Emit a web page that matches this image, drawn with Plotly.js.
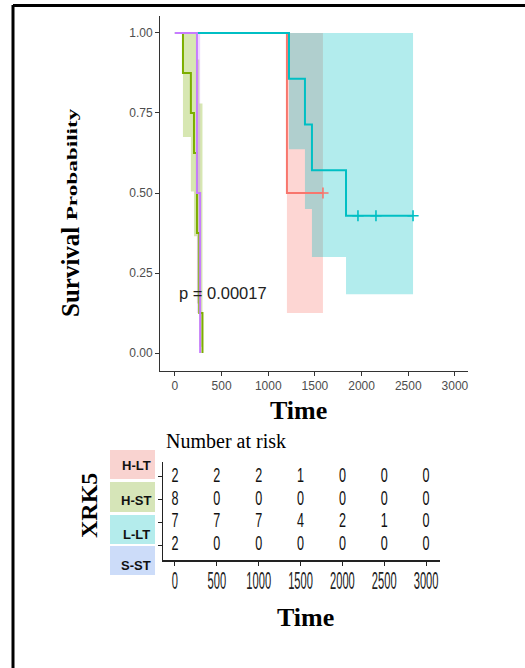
<!DOCTYPE html>
<html><head><meta charset="utf-8">
<script src="https://cdn.plot.ly/plotly-3.0.1.min.js"></script>
<style>html,body{margin:0;padding:0;background:#fff}#c{width:525px;height:668px}</style>
</head><body><div id="c"></div>
<script>
// ---- data ----
const groups = ["H-LT", "H-ST", "L-LT", "S-ST"];
const colors = ["#F8766D", "#7CAE00", "#00BFC4", "#C77CFF"];

const hltTime = [0, 1200, 1586];
const hltSurv = [1, 0.5, 0.5];
const hltLow  = [1, 0.125, 0.125];
const hltUp   = [1, 1, 1];
const hltCensor = [1586];

const hstTime = [0, 86, 171, 204, 236, 261, 295];
const hstSurv = [1, 0.875, 0.75, 0.625, 0.375, 0.125, 0];
const hstLow  = [1, 0.675, 0.505, 0.365, 0.155, 0.02, 0];
const hstUp   = [1, 1, 1, 1, 0.917, 0.78, 0];
const hstCensor = [];

const lltTime = [0, 1222, 1393, 1468, 1833, 2551];
const lltSurv = [1, 0.857, 0.714, 0.571, 0.429, 0.429];
const lltLow  = [1, 0.637, 0.45, 0.30, 0.184, 0.184];
const lltUp   = [1, 1, 1, 1, 1, 1];
const lltCensor = [1961, 2154, 2551];

const sstTime = [0, 236, 270];
const sstSurv = [1, 0.5, 0];
const sstLow  = [1, 0.125, 0];
const sstUp   = [1, 1, 0];
const sstCensor = [];

const pText = "p = 0.00017";

const riskTimes = [0, 500, 1000, 1500, 2000, 2500, 3000];
const riskHLT = [2, 2, 2, 1, 0, 0, 0];
const riskHST = [8, 0, 0, 0, 0, 0, 0];
const riskLLT = [7, 7, 7, 4, 2, 1, 0];
const riskSST = [2, 0, 0, 0, 0, 0, 0];

const yTicks = [0, 0.25, 0.5, 0.75, 1];
const xTicks = [0, 500, 1000, 1500, 2000, 2500, 3000];

// ---- build ----
const W = 525, H = 668;
const PX = x => x / W, PY = y => 1 - y / H;

function rgba(hex, a) {
  const r = parseInt(hex.slice(1,3),16), g = parseInt(hex.slice(3,5),16), b = parseInt(hex.slice(5,7),16);
  return `rgba(${r},${g},${b},${a})`;
}
function band(t, lo, hi) {
  const xs = [], ys = [], n = t.length;
  for (let i = 0; i < n; i++) { xs.push(t[i]); ys.push(hi[i]); if (i + 1 < n) { xs.push(t[i+1]); ys.push(hi[i]); } }
  for (let i = n - 1; i >= 0; i--) { if (i + 1 < n) { xs.push(t[i+1]); ys.push(lo[i]); } xs.push(t[i]); ys.push(lo[i]); }
  return {xs, ys};
}
function survAt(t, s, x) { let v = s[0]; for (let i = 0; i < t.length; i++) if (t[i] <= x) v = s[i]; return v; }

const series = [
  {t: hltTime, s: hltSurv, lo: hltLow, hi: hltUp, c: hltCensor},
  {t: hstTime, s: hstSurv, lo: hstLow, hi: hstUp, c: hstCensor},
  {t: lltTime, s: lltSurv, lo: lltLow, hi: lltUp, c: lltCensor},
  {t: sstTime, s: sstSurv, lo: sstLow, hi: sstUp, c: sstCensor}
];

const traces = [];
series.forEach((d, k) => {
  const b = band(d.t, d.lo, d.hi);
  traces.push({type: 'scatter', mode: 'lines', x: b.xs, y: b.ys, fill: 'toself',
    fillcolor: rgba(colors[k], 0.3), line: {width: 0}, hoverinfo: 'skip', showlegend: false, xaxis: 'x', yaxis: 'y'});
});
series.forEach((d, k) => {
  traces.push({type: 'scatter', mode: 'lines', x: d.t, y: d.s, line: {shape: 'hv', color: colors[k], width: 2},
    showlegend: false, name: groups[k], xaxis: 'x', yaxis: 'y'});
  if (d.c.length) traces.push({type: 'scatter', mode: 'markers', x: d.c, y: d.c.map(x => survAt(d.t, d.s, x)),
    marker: {symbol: 'cross-thin', size: 8, line: {color: colors[k], width: 1.6}}, showlegend: false, xaxis: 'x', yaxis: 'y'});
});

const riskRows = [riskHLT, riskHST, riskLLT, riskSST];
const sans = 'Liberation Sans, Arial, sans-serif';
riskRows.forEach((r, k) => {
  traces.push({type: 'scatter', mode: 'text', x: riskTimes, y: riskTimes.map(() => 4 - k), text: r.map(String),
    textposition: 'middle center', textfont: {family: sans, size: 18, color: '#111'},
    showlegend: false, hoverinfo: 'skip', xaxis: 'x2', yaxis: 'y2'});
});

const axisFont = {family: sans, size: 12, color: '#4D4D4D'};
const serif = 'Liberation Serif, Times New Roman, serif';

const boxColors = ['#F9D3D0', '#D6E5B8', '#B4ECEC', '#CCDCF9'];
const boxY = [[450, 479], [482, 512], [515, 544], [546, 575]];
const labelY = [465, 500, 534, 565];

const shapes = [
  {type: 'line', xref: 'paper', yref: 'paper', x0: PX(13), x1: PX(530), y0: PY(5.5), y1: PY(5.5), line: {color: '#000', width: 3}},
  {type: 'line', xref: 'paper', yref: 'paper', x0: PX(13), x1: PX(13), y0: PY(5), y1: PY(672), line: {color: '#000', width: 3}}
];
boxY.forEach((b, k) => shapes.push({type: 'rect', xref: 'paper', yref: 'paper', x0: PX(110), x1: PX(155),
  y0: PY(b[1]), y1: PY(b[0]), fillcolor: boxColors[k], line: {width: 0}}));

const annotations = [
  {xref: 'x', yref: 'y', x: 25, y: 0.1875, xanchor: 'left', yanchor: 'middle', text: pText, showarrow: false,
    font: {family: sans, size: 16.5, color: '#222'}},
  {xref: 'paper', yref: 'paper', x: PX(70), y: PY(272), textangle: -90, showarrow: false, xanchor: 'center', yanchor: 'middle',
    text: '<b>Survival</b>', font: {family: serif, size: 25, color: '#000'}},
  {xref: 'paper', yref: 'paper', x: PX(73), y: PY(165), textangle: -90, showarrow: false, xanchor: 'center', yanchor: 'middle',
    text: '<b>Probability</b>', font: {family: serif, size: 16, color: '#000'}},
  {xref: 'paper', yref: 'paper', x: PX(298), y: PY(410), showarrow: false, xanchor: 'center', yanchor: 'middle',
    text: '<b>Time</b>', font: {family: serif, size: 26, color: '#000'}},
  {xref: 'paper', yref: 'paper', x: PX(164), y: PY(441), showarrow: false, xanchor: 'left', yanchor: 'middle',
    text: 'Number at risk', font: {family: serif, size: 20, color: '#000'}},
  {xref: 'paper', yref: 'paper', x: PX(305), y: PY(617), showarrow: false, xanchor: 'center', yanchor: 'middle',
    text: '<b>Time</b>', font: {family: serif, size: 26, color: '#000'}},
  {xref: 'paper', yref: 'paper', x: PX(89), y: PY(506), textangle: -90, showarrow: false, xanchor: 'center', yanchor: 'middle',
    text: '<b>XRK5</b>', font: {family: serif, size: 24, color: '#000'}}
];
groups.forEach((g, k) => annotations.push({xref: 'paper', yref: 'paper', x: PX(136), y: PY(labelY[k]), showarrow: false,
  xanchor: 'center', yanchor: 'middle', text: '<b>' + g + '</b>', font: {family: sans, size: 13, color: '#111'}}));

const layout = {
  width: W, height: H, margin: {l: 0, r: 0, t: 0, b: 0}, paper_bgcolor: '#fff', plot_bgcolor: 'rgba(0,0,0,0)',
  showlegend: false,
  xaxis: {domain: [PX(160), PX(468)], range: [-160, 3140], tickvals: xTicks, ticks: 'outside', ticklen: 4,
    tickcolor: '#333', showline: true, linecolor: '#333', linewidth: 1, showgrid: false, zeroline: false,
    tickfont: axisFont, anchor: 'y'},
  yaxis: {domain: [PY(371), PY(16)], range: [-0.056, 1.053], tickvals: yTicks, tickformat: '.2f', ticks: 'outside', ticklen: 4,
    tickcolor: '#333', showline: true, linecolor: '#333', linewidth: 1, showgrid: false, zeroline: false,
    tickfont: axisFont, anchor: 'x'},
  xaxis2: {domain: [PX(163), PX(440)], range: [-143, 3166], tickvals: xTicks, tickangle: 0, ticks: 'outside', ticklen: 4,
    tickcolor: '#222', showline: true, linecolor: '#222', linewidth: 1.5, showgrid: false, zeroline: false,
    tickfont: {family: sans, size: 18, color: '#222'}, anchor: 'y2'},
  yaxis2: {domain: [PY(560), PY(462)], range: [0.34, 4.66], tickvals: [1, 2, 3, 4], showticklabels: false,
    ticks: 'outside', ticklen: 4, tickcolor: '#222', showline: true, linecolor: '#222', linewidth: 1.5,
    showgrid: false, zeroline: false, anchor: 'x2'},
  shapes: shapes, annotations: annotations
};

function squeeze(el, sx, sy) {
  const bb = el.getBBox();
  const cx = bb.x + bb.width / 2, cy = bb.y + bb.height / 2;
  const prev = el.getAttribute('transform') || '';
  el.setAttribute('transform', `${prev} translate(${cx},${cy}) scale(${sx},${sy}) translate(${-cx},${-cy})`);
}

Plotly.newPlot('c', traces, layout, {displayModeBar: false, staticPlot: true}).then(gd => {
  // narrow, tall digits of the risk table
  gd.querySelectorAll('.textpoint text').forEach(el => squeeze(el, 0.7, 1.1));
  gd.querySelectorAll('.xaxislayer-above .x2tick text').forEach(el => squeeze(el, 0.62, 1.3));
  // elongated "Probability"
  const prob = gd.querySelector('.annotation[data-index="2"] text');
  if (prob) squeeze(prob, 1.45, 0.9);
});
</script></body></html>
